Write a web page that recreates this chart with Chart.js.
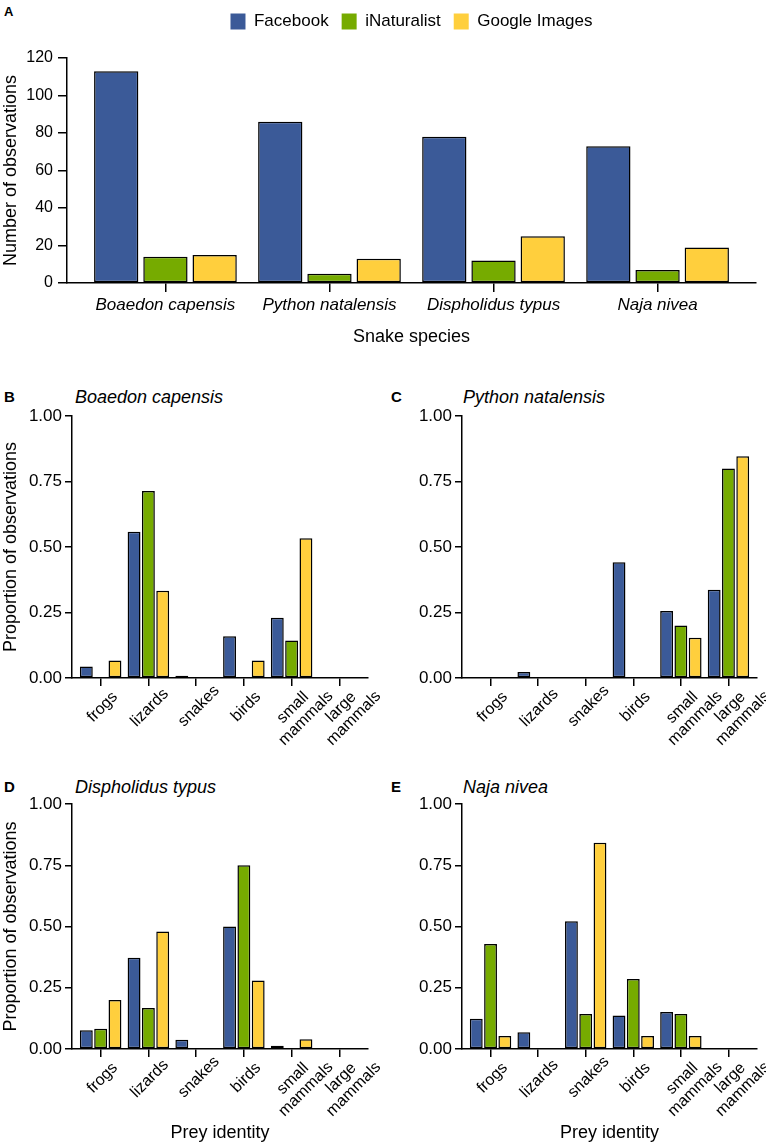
<!DOCTYPE html>
<html>
<head>
<meta charset="utf-8">
<script src="https://cdn.jsdelivr.net/npm/chart.js@4.4.1/dist/chart.umd.min.js"></script>
<style>
    body { margin: 0; width: 766px; height: 1148px; position: relative; background: #fff; overflow: hidden;
           font-family: "Liberation Sans", Arial, Helvetica, sans-serif; color: #000; }
    canvas { position: absolute; }
    .tag { position: absolute; font-weight: bold; font-size: 15px; line-height: 15px; }
    .title { position: absolute; font-style: italic; font-size: 18px; line-height: 18px; white-space: nowrap; }
</style>
</head>
<body>
<div class="tag" style="left:4px; top:5px; font-size:13px; line-height:13px;">A</div>
<canvas id="chartA" width="766" height="348" style="left:0; top:0;"></canvas>

<div class="tag" style="left:4px; top:389px;">B</div>
<div class="title" style="left:75px; top:388px;">Boaedon capensis</div>
<canvas id="chartB" width="380" height="360" style="left:0; top:400px;"></canvas>

<div class="tag" style="left:391px; top:389px;">C</div>
<div class="title" style="left:463px; top:388px;">Python natalensis</div>
<canvas id="chartC" width="376" height="360" style="left:390px; top:400px;"></canvas>

<div class="tag" style="left:4px; top:779px;">D</div>
<div class="title" style="left:75px; top:778px;">Dispholidus typus</div>
<canvas id="chartD" width="380" height="354" style="left:0; top:790px;"></canvas>

<div class="tag" style="left:391px; top:779px;">E</div>
<div class="title" style="left:463px; top:778px;">Naja nivea</div>
<canvas id="chartE" width="376" height="354" style="left:390px; top:790px;"></canvas>

<script>
const FONT = '"Liberation Sans", Arial, Helvetica, sans-serif';
Chart.defaults.font.family = FONT;
Chart.defaults.color = '#000';
Chart.defaults.animation = false;

// --- 데이터 ---
const sources = ['Facebook', 'iNaturalist', 'Google Images'];
const sourceColors = ['#3B5A98', '#76AB00', '#FFCF3D'];

// A: 종별 관찰 수
const snakeSpecies = ['Boaedon capensis', 'Python natalensis', 'Dispholidus typus', 'Naja nivea'];
const facebookCounts = [113, 86, 78, 73];
const inaturalistCounts = [14, 5, 12, 7];
const googleCounts = [15, 13, 25, 19];
const countTicks = [0, 20, 40, 60, 80, 100, 120];

// B-E: 먹이 비율
const preyLabels = ['frogs', 'lizards', 'snakes', 'birds', ['small', 'mammals'], ['large', 'mammals']];
const proportionTicks = [0, 0.25, 0.5, 0.75, 1];

const boaedonFacebook = [0.044, 0.558, 0.009, 0.159, 0.230, 0];
const boaedonINat = [0, 0.714, 0, 0, 0.143, 0];
const boaedonGoogle = [0.067, 0.333, 0, 0.067, 0.533, 0];

const pythonFacebook = [0, 0.023, 0, 0.442, 0.256, 0.337];
const pythonINat = [0, 0, 0, 0, 0.2, 0.8];
const pythonGoogle = [0, 0, 0, 0, 0.154, 0.846];

const dispholidusFacebook = [0.077, 0.372, 0.038, 0.5, 0.013, 0];
const dispholidusINat = [0.083, 0.167, 0, 0.75, 0, 0];
const dispholidusGoogle = [0.2, 0.48, 0, 0.28, 0.04, 0];

const najaFacebook = [0.123, 0.068, 0.521, 0.137, 0.151, 0];
const najaINat = [0.429, 0, 0.143, 0.286, 0.143, 0];
const najaGoogle = [0.053, 0, 0.842, 0.053, 0.053, 0];

// 회전된 라벨을 틱 중앙에 맞추기 위해 뒤에 공백을 붙임 (Chart.js는 오른쪽 정렬만 함)
const PREY_FONT_SIZE = 16;
const measureCtx = document.createElement('canvas').getContext('2d');
measureCtx.font = `${PREY_FONT_SIZE}px ${FONT}`;
const spaceWidth = measureCtx.measureText(' ').width;
const preyMaxWidth = Math.max(...preyLabels.flat().map(t => measureCtx.measureText(t).width));
const centeredPreyLabels = preyLabels.map(label => {
    const pad = text => text + ' '.repeat(Math.max(0, Math.round((preyMaxWidth - measureCtx.measureText(text).width) / 2 / spaceWidth)));
    return Array.isArray(label) ? label.map(pad) : pad(label);
});

// 막대 데이터셋 (x는 1부터 시작하는 카테고리 위치)
function buildDatasets(series) {
    return series.map((values, i) => ({
        label: sources[i],
        data: values.map((v, k) => ({ x: k + 1, y: v })),
        backgroundColor: sourceColors[i],
        borderColor: '#000',
        borderWidth: ctx => (ctx.raw && ctx.raw.y > 0 ? 1.5 : 0),
        borderSkipped: false,
        categoryPercentage: 0.9,
        barPercentage: 0.9
    }));
}

// ggplot처럼 양쪽 0.6 여백을 두는 x축
function categoryAxis(labels, cfg) {
    return {
        type: 'linear',
        offset: false,
        min: 0.4,
        max: labels.length + 0.6,
        afterBuildTicks: axis => { axis.ticks = labels.map((_, i) => ({ value: i + 1 })); },
        afterFit: axis => { axis.height = cfg.height; },
        border: { display: true, color: '#000', width: 1.5 },
        grid: { offset: false, drawOnChartArea: false, color: '#000', lineWidth: 1.5, tickLength: cfg.tickLength },
        ticks: {
            stepSize: 1,
            autoSkip: false,
            minRotation: cfg.rotation,
            maxRotation: cfg.rotation,
            labelOffset: cfg.labelOffset,
            padding: cfg.padding,
            font: { size: cfg.fontSize, style: cfg.fontStyle || 'normal', lineHeight: cfg.lineHeight || 1.2 },
            callback: v => labels[v - 1]
        },
        title: { display: !!cfg.title, text: cfg.title, font: { size: 18 }, padding: 0 }
    };
}

function valueAxis(tickValues, cfg) {
    return {
        min: tickValues[0],
        max: tickValues[tickValues.length - 1],
        afterBuildTicks: axis => { axis.ticks = tickValues.map(v => ({ value: v })); },
        afterFit: axis => { axis.width = cfg.width; },
        border: { display: true, color: '#000', width: 1.5 },
        grid: { drawOnChartArea: false, color: '#000', lineWidth: 1.5, tickLength: cfg.tickLength },
        ticks: { padding: cfg.padding, font: { size: cfg.fontSize }, callback: cfg.format },
        title: { display: !!cfg.title, text: cfg.title, font: { size: 18 }, padding: 0 }
    };
}

// 범례 높이를 고정해서 플롯 영역 위치를 맞춤
const legendHeight = {
    id: 'legendHeight',
    beforeInit(chart) {
        const fit = chart.legend.fit;
        chart.legend.fit = function () {
            fit.call(this);
            this.height = 58;
        };
    }
};

// --- A: 종별 관찰 수 ---
new Chart(document.getElementById('chartA'), {
    type: 'bar',
    data: { datasets: buildDatasets([facebookCounts, inaturalistCounts, googleCounts]) },
    options: {
        responsive: false,
        layout: { padding: { left: 0, right: 10, top: 0, bottom: 0 } },
        plugins: {
            legend: {
                position: 'top',
                fullSize: false,
                labels: {
                    boxWidth: 15,
                    boxHeight: 16,
                    padding: 13,
                    font: { size: 17 },
                    generateLabels: chart => Chart.defaults.plugins.legend.labels.generateLabels(chart)
                        .map(item => ({ ...item, lineWidth: 0 }))
                }
            },
            tooltip: { enabled: false }
        },
        scales: {
            x: categoryAxis(snakeSpecies, {
                height: 65, tickLength: 9, rotation: 0, labelOffset: 0, padding: 3,
                fontSize: 17, fontStyle: 'italic', title: 'Snake species'
            }),
            y: valueAxis(countTicks, {
                width: 67, tickLength: 9, padding: 5, fontSize: 16,
                format: v => String(v), title: 'Number of observations'
            })
        }
    },
    plugins: [legendHeight]
});

// --- B-E: 먹이 비율 ---
function renderPreyChart(canvasId, series, opts) {
    new Chart(document.getElementById(canvasId), {
        type: 'bar',
        data: { datasets: buildDatasets(series) },
        options: {
            responsive: false,
            layout: { padding: { left: 0, right: opts.right, top: opts.top, bottom: 0 } },
            plugins: { legend: { display: false }, tooltip: { enabled: false } },
            scales: {
                x: categoryAxis(centeredPreyLabels, {
                    height: opts.xHeight, tickLength: 8, rotation: 45, labelOffset: 27, padding: -10,
                    fontSize: PREY_FONT_SIZE, lineHeight: 1.05, title: opts.xTitle
                }),
                y: valueAxis(proportionTicks, {
                    width: 72, tickLength: 7, padding: 3, fontSize: 17,
                    format: v => v.toFixed(2), title: opts.yTitle
                })
            }
        }
    });
}

renderPreyChart('chartB', [boaedonFacebook, boaedonINat, boaedonGoogle],
    { top: 16, right: 12, xHeight: 82, yTitle: 'Proportion of observations' });
renderPreyChart('chartC', [pythonFacebook, pythonINat, pythonGoogle],
    { top: 16, right: 9, xHeight: 82 });
renderPreyChart('chartD', [dispholidusFacebook, dispholidusINat, dispholidusGoogle],
    { top: 14, right: 12, xHeight: 95, xTitle: 'Prey identity', yTitle: 'Proportion of observations' });
renderPreyChart('chartE', [najaFacebook, najaINat, najaGoogle],
    { top: 14, right: 9, xHeight: 95, xTitle: 'Prey identity' });
</script>
</body>
</html>
